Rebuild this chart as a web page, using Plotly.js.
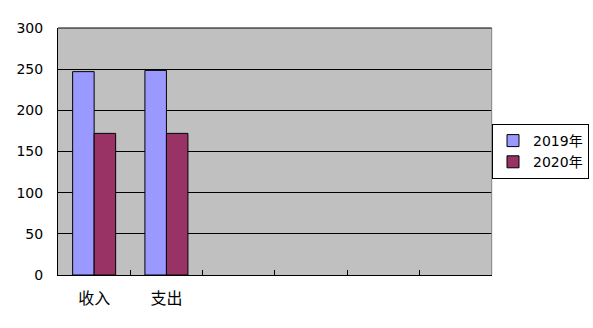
<!DOCTYPE html>
<html>
<head>
<meta charset="utf-8">
<script src="https://cdn.plot.ly/plotly-3.0.1.min.js"></script>
<style>html,body{margin:0;padding:0;background:#fff;}#chart{width:593px;height:328px;}</style>
</head>
<body>
<div id="chart"></div>
<script>
const categories = ['收入', '支出'];
const emptySlots = [' ', '  ', '   ', '    '];
const seriesNames = ['2019年', '2020年'];
const values2019 = [247, 248.5];
const values2020 = [172, 172];
const yTicks = [0, 50, 100, 150, 200, 250, 300];

const font = "'DejaVu Sans', 'Noto Sans CJK SC', sans-serif";
const cjkFont = "'Noto Sans CJK SC', 'DejaVu Sans', sans-serif";

const traces = [
  {type: 'bar', name: seriesNames[0], x: categories, y: values2019,
   marker: {color: '#9999FF', line: {color: '#000', width: 1}}},
  {type: 'bar', name: seriesNames[1], x: categories, y: values2020,
   marker: {color: '#993366', line: {color: '#000', width: 1}}}
];

const plotW = 593 - 58;
const domRight = (491.7 - 58) / plotW;

const layout = {
  width: 593, height: 328,
  margin: {l: 58, r: 0, t: 28, b: 53},
  paper_bgcolor: '#ffffff',
  plot_bgcolor: '#C0C0C0',
  barmode: 'group',
  bargap: 0.405,
  bargroupgap: 0,
  font: {family: font, size: 14, color: '#000'},
  xaxis: {
    type: 'category',
    domain: [0, domRight],
    categoryorder: 'array',
    categoryarray: categories.concat(emptySlots),
    range: [-0.5, 5.5],
    showline: true, linecolor: '#000', linewidth: 1,
    showgrid: false,
    tickson: 'boundaries',
    ticks: 'inside', ticklen: 5, tickcolor: '#000', tickwidth: 1,
    ticklabelstandoff: 9,
    tickfont: {family: cjkFont, size: 16, color: '#000'},
    fixedrange: true
  },
  yaxis: {
    range: [0, 300],
    tickvals: yTicks,
    ticktext: yTicks.map(String),
    showline: true, linecolor: '#000', linewidth: 1,
    showgrid: true, gridcolor: '#000', gridwidth: 1,
    zeroline: false,
    ticks: '',
    ticklabelstandoff: 11,
    tickfont: {family: font, size: 14, color: '#000'},
    fixedrange: true
  },
  shapes: [
    {type: 'line', xref: 'x domain', yref: 'paper', x0: 1, x1: 1, y0: 0, y1: 1,
     line: {color: '#808080', width: 1}, layer: 'above'},
    {type: 'line', xref: 'x domain', yref: 'paper', x0: 0, x1: 1, y0: 1, y1: 1,
     line: {color: '#000', width: 1}, layer: 'above'}
  ],
  legend: {
    x: (589 - 58) / plotW, xanchor: 'right', y: 0.5, yanchor: 'middle',
    bgcolor: '#fff', bordercolor: '#000', borderwidth: 1,
    font: {family: font, size: 14, color: '#000'},
    tracegroupgap: 0,
    itemwidth: 30
  },
  showlegend: true
};

Plotly.newPlot('chart', traces, layout, {displayModeBar: false, staticPlot: true});
</script>
</body>
</html>
